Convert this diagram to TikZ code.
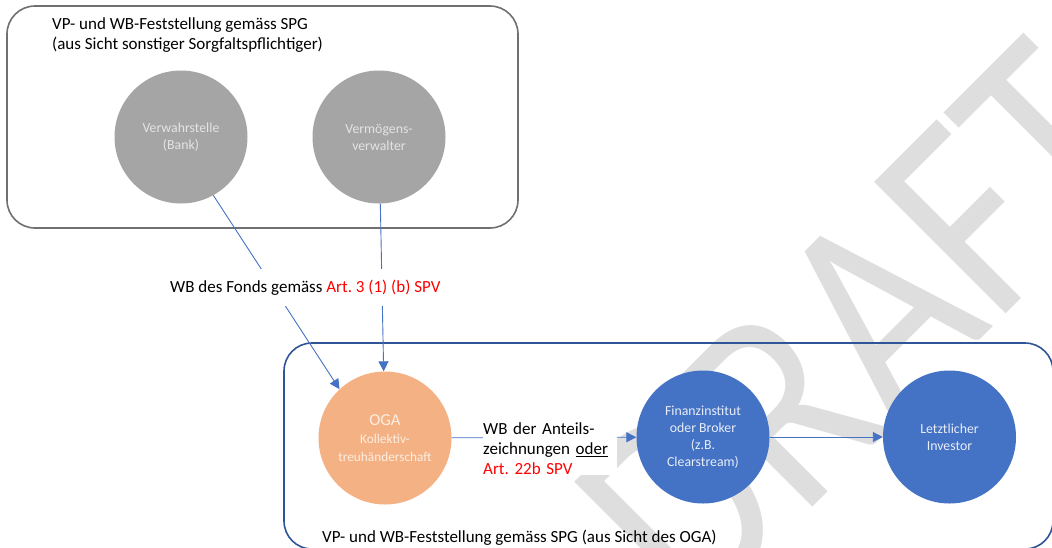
\documentclass[tikz,border=0pt]{standalone}
\usepackage{fontspec}
\setmainfont{Carlito}
\frenchspacing
\usetikzlibrary{arrows.meta}
\definecolor{boxgray}{RGB}{112,112,112}
\definecolor{boxblue}{RGB}{47,85,151}
\definecolor{linkblue}{RGB}{68,114,196}
\definecolor{circgray}{RGB}{165,165,165}
\definecolor{circblue}{RGB}{68,114,196}
\definecolor{circorange}{RGB}{244,177,131}
\definecolor{txtgray}{RGB}{228,228,228}
\definecolor{txtblue}{RGB}{232,238,248}
\definecolor{txtorange}{RGB}{253,238,226}
\definecolor{wmgray}{RGB}{222,222,222}
\definecolor{lawred}{RGB}{255,0,0}
\begin{document}
\begin{tikzpicture}[x=1pt,y=-1pt,
  entity/.style={circle,minimum size=133pt,inner sep=0pt,align=center,
    font=\fontsize{13.8}{17}\selectfont},
  grayent/.style={entity,fill=circgray,text=txtgray},
  blueent/.style={entity,fill=circblue,text=txtblue},
  orangeent/.style={entity,fill=circorange,text=txtorange,
    font=\fontsize{13.3}{18}\selectfont},
  link/.style={draw=linkblue,line width=0.9pt},
  arrowlink/.style={link,-{Triangle[length=10pt,width=10pt]}},
  lbl/.style={font=\fontsize{17}{20}\selectfont,inner sep=0pt},
  frame/.style={rounded corners=28pt,line width=1.6pt},
  watermark/.style={text=wmgray,font=\fontsize{290}{290}\selectfont,
    inner sep=0pt,anchor=base,rotate=45,xscale=0.84}
]
\clip (0,0) rectangle (1052,547);
% watermark
\node[watermark] (wm) at (926,394) {DRAFT};
% frames
\draw[frame,draw=boxgray] (7,6) rectangle (518,228);
\draw[frame,draw=boxblue] (284,343) rectangle (1053,549);
% frame titles
\node[lbl,anchor=west,align=left] (toptitle) at (52,35)
  {VP- und WB-Feststellung gemäss SPG\\(aus Sicht sonstiger Sorgfaltspflichtiger)};
\node[lbl,anchor=base west] (bottitle) at (322,542)
  {VP- und WB-Feststellung gemäss SPG (aus Sicht des OGA)};
% entities
\node[grayent] (verw) at (181,137) {Verwahrstelle\\(Bank)};
\node[grayent] (verm) at (379,137) {Vermögens-\\verwalter};
\node[orangeent] (oga) at (385,438)
  {{\fontsize{16.7}{18}\selectfont OGA}\\Kollektiv-\\treuhänderschaft};
\node[blueent] (fin) at (703,437) {Finanzinstitut\\oder Broker\\(z.B.\\Clearstream)};
\node[blueent] (inv) at (949.5,437) {Letztlicher\\Investor};
% connectors
\draw[arrowlink] (verw.-61) -- (oga.133);
\draw[arrowlink] (verm) -- (oga);
\draw[arrowlink] (oga) -- (fin);
\draw[arrowlink] (fin) -- (inv);
% connector labels
\node[lbl,fill=white,inner xsep=2pt,minimum height=37pt,anchor=base west] (fondlab) at (168,292)
  {WB des Fonds gemäss \textcolor{lawred}{Art. 3 (1) (b) SPV}};
\node[lbl,fill=white,text width=134pt,align=left,anchor=west] (ztlab) at (483,449)
  {WB der Anteils-\\zeichnungen \underline{oder}\\\textcolor{lawred}{Art. 22b SPV}};
\end{tikzpicture}
\end{document}
